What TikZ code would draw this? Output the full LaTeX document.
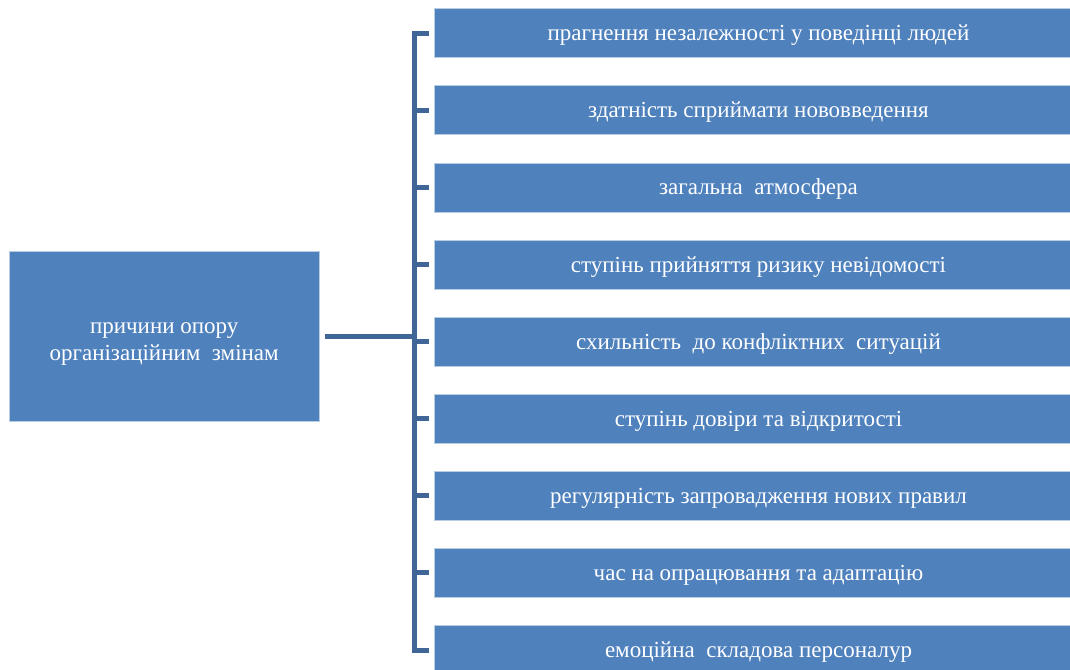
\documentclass[tikz,border=0pt]{standalone}
\usepackage{fontspec}
\setmainfont{Liberation Serif}
\definecolor{boxblue}{HTML}{4F81BD}
\definecolor{linkblue}{HTML}{3F6696}
\definecolor{edgeblue}{HTML}{B8CCE4}
\begin{document}
\begin{tikzpicture}[x=1pt,y=-1pt]
	\tikzstyle{cause} = [ fill=boxblue, draw=edgeblue, line width=0.8pt, minimum width=649pt, minimum height=49pt, inner sep=0pt, text=white, font={\fontsize{23}{27}\selectfont}, text height=17pt, text depth=2pt];
	\tikzstyle{source} = [ fill=boxblue, draw=edgeblue, line width=0.8pt, minimum width=310pt, minimum height=170pt, inner sep=0pt, text=white, font={\fontsize{23}{27}\selectfont}, align=center, text height=50pt, text depth=3.4pt];
	\tikzstyle{link} = [ draw=linkblue, line width=5pt ];

	\useasboundingbox (0,0) rectangle (1070,669);
	\clip (0,0) rectangle (1070,669);

	\def \causes {прагнення незалежності у поведінці людей,здатність сприймати нововведення,загальна\ \ атмосфера,ступінь прийняття ризику невідомості,схильність\ \ до конфліктних\ \ ситуацій,ступінь довіри та відкритості,регулярність запровадження нових правил,час на опрацювання та адаптацію,емоційна\ \ складова персоналур}

	\foreach \x [count=\xi] in \causes {
		\node[cause] (c\xi) at (758.5, {33.2+77.1*(\xi-1)}) {\x};
	}

	\node[source] (main) at (164.2,336.7) {причини опору\\організаційним\ \ змінам};

	\coordinate (spine) at (414,336.7);
	\draw[link] ([xshift=5pt]main.east) -- (spine);
	\draw[link, line cap=rect] (c1.west -| spine) -- (c9.west -| spine);
	\foreach \xi in {1,...,9} {
		\draw[link] (c\xi.west -| spine) -- ([xshift=-5pt]c\xi.west);
	}
\end{tikzpicture}
\end{document}
